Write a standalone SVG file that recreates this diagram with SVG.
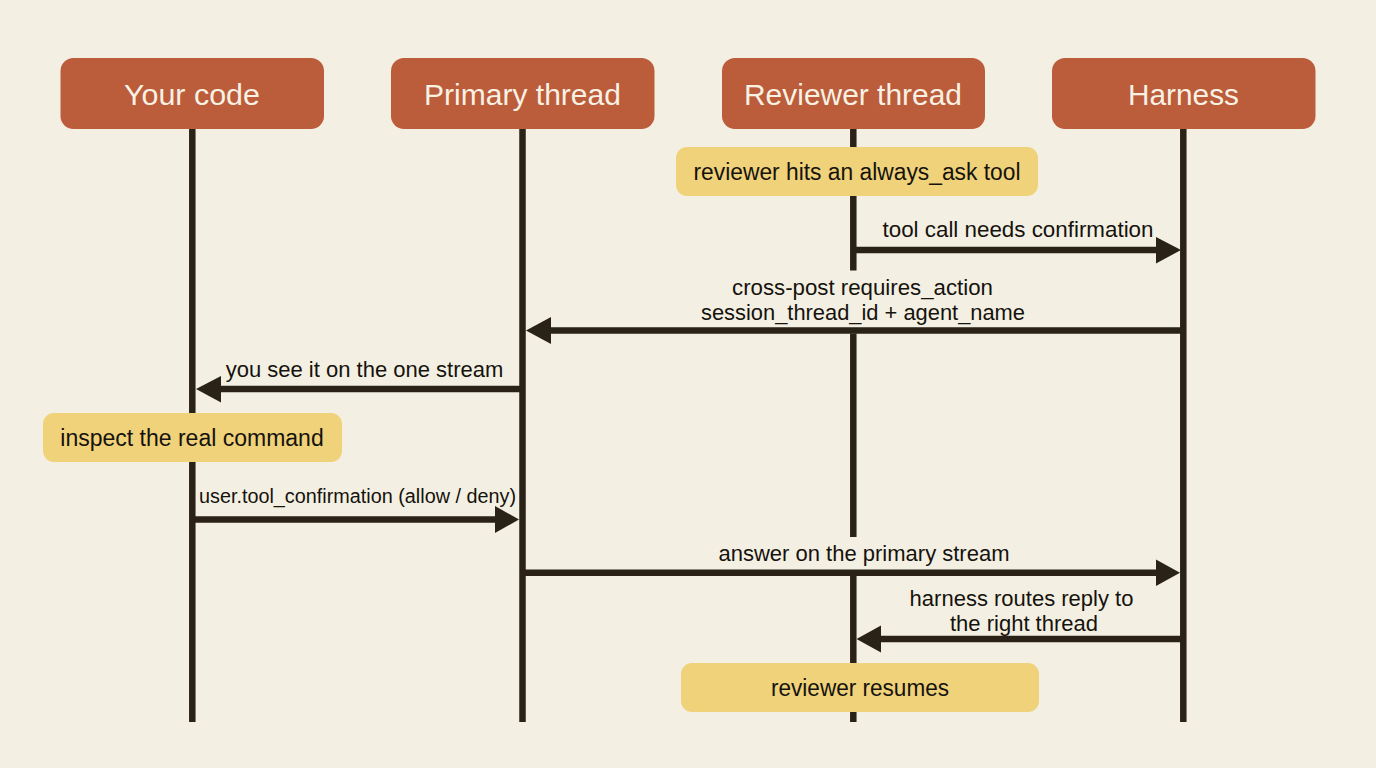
<svg xmlns="http://www.w3.org/2000/svg" width="1376" height="768" viewBox="0 0 1376 768">
<style>
text{font-family:"Liberation Sans",Arial,sans-serif;text-anchor:middle;fill:#16120d}
.h rect{fill:#bb5c3a}
.h text{fill:#f8f1e4;font-size:30px}
.n rect{fill:#efd27a}
.n text{font-size:23px}
.l{font-size:22px}
.life{stroke:#2a2117;stroke-width:6.500;fill:none}
.m{stroke:#2a2117;stroke-width:6.500;fill:none}
.a{fill:#2a2117}
</style>
<rect width="1376" height="768" fill="#f3f0e3"/>
<g id="connectors">
<path class="life" d="M192.300 128V722M522.500 128V722M853.300 128V270.500M853.300 333.500V537M853.300 576V722M1183.300 128V722"/>
<path class="m" d="M853 250H1158"/><polygon class="a" points="1181,250 1156,237 1156,263.500"/>
<path class="m" d="M1183 330.500H548"/><polygon class="a" points="526,330.500 551,317 551,344"/>
<path class="m" d="M522 389H218"/><polygon class="a" points="196,389 221,376 221,402.500"/>
<path class="m" d="M192 519.500H497"/><polygon class="a" points="519,519.500 495,506 495,533"/>
<path class="m" d="M522 572.800H1158"/><polygon class="a" points="1180,572.800 1156,559.500 1156,586"/>
<path class="m" d="M1183 639H878"/><polygon class="a" points="856.500,639 881,625.500 881,652.500"/>
</g>
<g id="actor-code" class="h"><rect x="60.500" y="58" width="263.500" height="71" rx="13"/><text x="192" y="105" textLength="136" lengthAdjust="spacingAndGlyphs">Your code</text></g>
<g id="actor-primary" class="h"><rect x="391" y="58" width="263.500" height="71" rx="13"/><text x="522.500" y="105" textLength="197" lengthAdjust="spacingAndGlyphs">Primary thread</text></g>
<g id="actor-reviewer" class="h"><rect x="722" y="58" width="263" height="71" rx="13"/><text x="853" y="105" textLength="218" lengthAdjust="spacingAndGlyphs">Reviewer thread</text></g>
<g id="actor-harness" class="h"><rect x="1052" y="58" width="263.500" height="71" rx="13"/><text x="1183.500" y="105" textLength="111" lengthAdjust="spacingAndGlyphs">Harness</text></g>
<g id="note-hits" class="n"><rect x="676" y="147" width="362" height="49" rx="11"/><text x="857" y="180" textLength="327" lengthAdjust="spacingAndGlyphs">reviewer hits an always_ask tool</text></g>
<g id="note-inspect" class="n"><rect x="43" y="413" width="299" height="49" rx="11"/><text x="192" y="446">inspect the real command</text></g>
<g id="note-resumes" class="n"><rect x="681" y="663" width="358" height="49" rx="11"/><text x="860" y="696" textLength="178" lengthAdjust="spacingAndGlyphs">reviewer resumes</text></g>
<g id="labels">
<text class="l" x="1018" y="237" textLength="271" lengthAdjust="spacingAndGlyphs">tool call needs confirmation</text>
<text class="l" x="862.500" y="295" textLength="261" lengthAdjust="spacingAndGlyphs">cross-post requires_action</text>
<text class="l" x="863" y="320" textLength="324" lengthAdjust="spacingAndGlyphs">session_thread_id + agent_name</text>
<text class="l" x="364.500" y="377">you see it on the one stream</text>
<text x="357.500" y="503" font-size="20" textLength="317" lengthAdjust="spacingAndGlyphs">user.tool_confirmation (allow / deny)</text>
<text class="l" x="864" y="561">answer on the primary stream</text>
<text class="l" x="1021.500" y="606">harness routes reply to</text>
<text class="l" x="1024" y="631">the right thread</text>
</g>
</svg>
